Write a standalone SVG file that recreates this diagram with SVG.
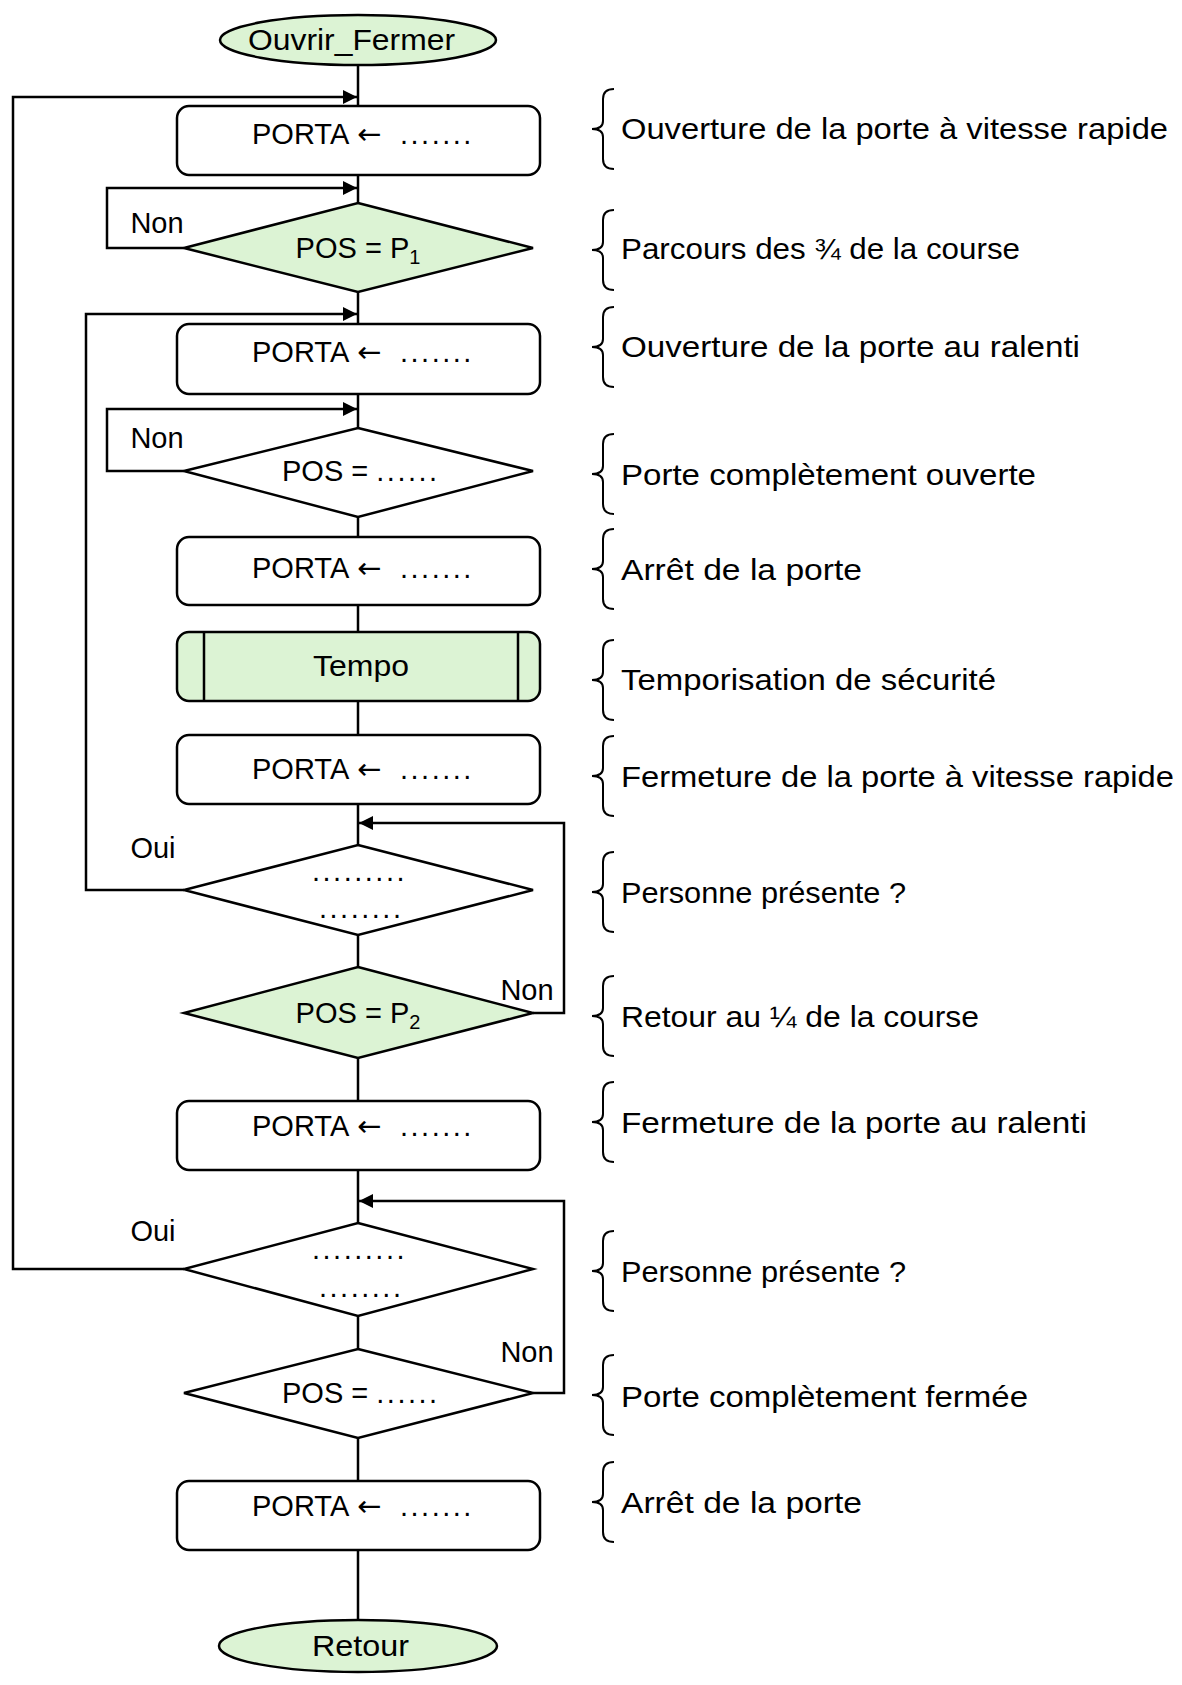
<svg xmlns="http://www.w3.org/2000/svg" width="1182" height="1685" viewBox="0 0 1182 1685">
<defs>
<style>
.ln{fill:none;stroke:#000;stroke-width:2.5}
.box{fill:#fff;stroke:#000;stroke-width:2.5}
.grn{fill:#dcf3d4;stroke:#000;stroke-width:2.5}
.t{font-family:"Liberation Sans",Arial,sans-serif;font-size:29px;fill:#000;text-anchor:middle}
.p{font-family:"Liberation Sans",Arial,sans-serif;font-size:29px;fill:#000}
.a{font-family:"DejaVu Sans",sans-serif}
.d{letter-spacing:2.5px}
.s{font-family:"Liberation Sans",Arial,sans-serif;font-size:30px;fill:#000}
.br{fill:none;stroke:#000;stroke-width:2}
</style>
<marker id="ar" viewBox="0 0 10 10" refX="10" refY="5" markerWidth="16" markerHeight="14" markerUnits="userSpaceOnUse" orient="auto">
<path d="M0,0 L10,5 L0,10 Z" fill="#000"/>
</marker>
</defs>
<rect width="1182" height="1685" fill="#fff"/>
<g id="connectors">
<path class="ln" d="M358,64 V1620"/>
<path class="ln" d="M184,1269 H13 V97 H357" marker-end="url(#ar)"/>
<path class="ln" d="M184,248 H107 V188 H357" marker-end="url(#ar)"/>
<path class="ln" d="M184,890 H86 V314 H357" marker-end="url(#ar)"/>
<path class="ln" d="M184,471 H107 V409 H357" marker-end="url(#ar)"/>
<path class="ln" d="M533,1013 H564 V823 H359" marker-end="url(#ar)"/>
<path class="ln" d="M533,1393 H564 V1201 H359" marker-end="url(#ar)"/>
<text class="t" x="157" y="233">Non</text>
<text class="t" x="157" y="448">Non</text>
<text class="t" x="153" y="858">Oui</text>
<text class="t" x="153" y="1241">Oui</text>
<text class="t" x="527" y="1000">Non</text>
<text class="t" x="527" y="1362">Non</text>
</g>
<g id="start"><ellipse class="grn" cx="358" cy="40" rx="138" ry="25"/><text class="p" x="248" y="50" textLength="207" lengthAdjust="spacingAndGlyphs">Ouvrir_Fermer</text></g>
<g id="porta1"><rect class="box" x="177" y="106" width="363" height="69" rx="12"/><text class="p" x="252" y="144">PORTA<tspan class="a" x="357">←</tspan><tspan class="d" x="400">.......</tspan></text></g>
<g id="pos1"><polygon class="grn" points="358,203 533,248 358,292 184,248"/><text class="t" x="358" y="258">POS = P<tspan font-size="20" dy="6">1</tspan></text></g>
<g id="porta2"><rect class="box" x="177" y="324" width="363" height="70" rx="12"/><text class="p" x="252" y="362">PORTA<tspan class="a" x="357">←</tspan><tspan class="d" x="400">.......</tspan></text></g>
<g id="pos2"><polygon class="box" points="358,428 533,471 358,517 184,471"/><text class="p" x="282" y="481">POS = <tspan class="d">......</tspan></text></g>
<g id="porta3"><rect class="box" x="177" y="537" width="363" height="68" rx="12"/><text class="p" x="252" y="578">PORTA<tspan class="a" x="357">←</tspan><tspan class="d" x="400">.......</tspan></text></g>
<g id="tempo"><rect class="grn" x="177" y="632" width="363" height="69" rx="12"/><path class="ln" d="M204,632 V701 M518,632 V701"/><text class="p" x="313" y="676" textLength="96" lengthAdjust="spacingAndGlyphs">Tempo</text></g>
<g id="porta4"><rect class="box" x="177" y="735" width="363" height="69" rx="12"/><text class="p" x="252" y="779">PORTA<tspan class="a" x="357">←</tspan><tspan class="d" x="400">.......</tspan></text></g>
<g id="pers1"><polygon class="box" points="358,845 533,890 358,935 184,890"/><text class="p d" x="312" y="881">.........</text><text class="p d" x="319" y="918">........</text></g>
<g id="pos3"><polygon class="grn" points="358,967 533,1013 358,1058 184,1013"/><text class="t" x="358" y="1023">POS = P<tspan font-size="20" dy="6">2</tspan></text></g>
<g id="porta5"><rect class="box" x="177" y="1101" width="363" height="69" rx="12"/><text class="p" x="252" y="1136">PORTA<tspan class="a" x="357">←</tspan><tspan class="d" x="400">.......</tspan></text></g>
<g id="pers2"><polygon class="box" points="358,1223 533,1269 358,1316 184,1269"/><text class="p d" x="312" y="1259">.........</text><text class="p d" x="319" y="1297">........</text></g>
<g id="pos4"><polygon class="box" points="358,1349 533,1393 358,1438 184,1393"/><text class="p" x="282" y="1403">POS = <tspan class="d">......</tspan></text></g>
<g id="porta6"><rect class="box" x="177" y="1481" width="363" height="69" rx="12"/><text class="p" x="252" y="1516">PORTA<tspan class="a" x="357">←</tspan><tspan class="d" x="400">.......</tspan></text></g>
<g id="end"><ellipse class="grn" cx="358" cy="1646" rx="139" ry="26"/><text class="p" x="312" y="1656" textLength="97" lengthAdjust="spacingAndGlyphs">Retour</text></g>
<g id="comments">
<path class="br" d="M614,89 Q603,89 603,99 V121 Q603,129 592,129 Q603,129 603,137 V159 Q603,169 614,169"/>
<text class="s" x="621" y="139" textLength="547" lengthAdjust="spacingAndGlyphs">Ouverture de la porte à vitesse rapide</text>
<path class="br" d="M614,210 Q603,210 603,220 V242 Q603,250 592,250 Q603,250 603,258 V280 Q603,290 614,290"/>
<text class="s" x="621" y="259" textLength="399" lengthAdjust="spacingAndGlyphs">Parcours des ¾ de la course</text>
<path class="br" d="M614,307 Q603,307 603,317 V339 Q603,347 592,347 Q603,347 603,355 V377 Q603,387 614,387"/>
<text class="s" x="621" y="357" textLength="459" lengthAdjust="spacingAndGlyphs">Ouverture de la porte au ralenti</text>
<path class="br" d="M614,434 Q603,434 603,444 V466 Q603,474 592,474 Q603,474 603,482 V504 Q603,514 614,514"/>
<text class="s" x="621" y="485" textLength="415" lengthAdjust="spacingAndGlyphs">Porte complètement ouverte</text>
<path class="br" d="M614,529 Q603,529 603,539 V561 Q603,569 592,569 Q603,569 603,577 V599 Q603,609 614,609"/>
<text class="s" x="621" y="580" textLength="241" lengthAdjust="spacingAndGlyphs">Arrêt de la porte</text>
<path class="br" d="M614,640 Q603,640 603,650 V672 Q603,680 592,680 Q603,680 603,688 V710 Q603,720 614,720"/>
<text class="s" x="621" y="690" textLength="375" lengthAdjust="spacingAndGlyphs">Temporisation de sécurité</text>
<path class="br" d="M614,736 Q603,736 603,746 V768 Q603,776 592,776 Q603,776 603,784 V806 Q603,816 614,816"/>
<text class="s" x="621" y="787" textLength="553" lengthAdjust="spacingAndGlyphs">Fermeture de la porte à vitesse rapide</text>
<path class="br" d="M614,852 Q603,852 603,862 V884 Q603,892 592,892 Q603,892 603,900 V922 Q603,932 614,932"/>
<text class="s" x="621" y="903" textLength="285" lengthAdjust="spacingAndGlyphs">Personne présente ?</text>
<path class="br" d="M614,976 Q603,976 603,986 V1008 Q603,1016 592,1016 Q603,1016 603,1024 V1046 Q603,1056 614,1056"/>
<text class="s" x="621" y="1027" textLength="358" lengthAdjust="spacingAndGlyphs">Retour au ¼ de la course</text>
<path class="br" d="M614,1082 Q603,1082 603,1092 V1114 Q603,1122 592,1122 Q603,1122 603,1130 V1152 Q603,1162 614,1162"/>
<text class="s" x="621" y="1133" textLength="466" lengthAdjust="spacingAndGlyphs">Fermeture de la porte au ralenti</text>
<path class="br" d="M614,1231 Q603,1231 603,1241 V1263 Q603,1271 592,1271 Q603,1271 603,1279 V1301 Q603,1311 614,1311"/>
<text class="s" x="621" y="1282" textLength="285" lengthAdjust="spacingAndGlyphs">Personne présente ?</text>
<path class="br" d="M614,1355 Q603,1355 603,1365 V1387 Q603,1395 592,1395 Q603,1395 603,1403 V1425 Q603,1435 614,1435"/>
<text class="s" x="621" y="1407" textLength="407" lengthAdjust="spacingAndGlyphs">Porte complètement fermée</text>
<path class="br" d="M614,1462 Q603,1462 603,1472 V1494 Q603,1502 592,1502 Q603,1502 603,1510 V1532 Q603,1542 614,1542"/>
<text class="s" x="621" y="1513" textLength="241" lengthAdjust="spacingAndGlyphs">Arrêt de la porte</text>
</g>
</svg>
